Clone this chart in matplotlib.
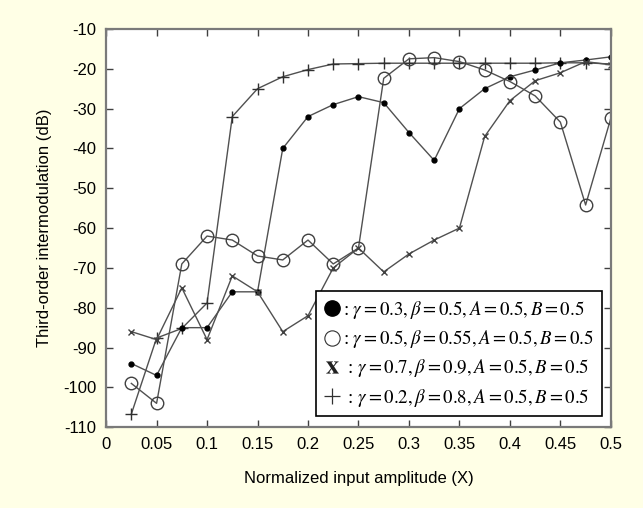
import matplotlib
matplotlib.use("Agg")
import matplotlib.pyplot as plt
from matplotlib.lines import Line2D
from matplotlib.font_manager import FontProperties

plt.rcParams['font.family'] = ['Liberation Sans', 'DejaVu Sans']
plt.rcParams['mathtext.fontset'] = 'stix'
plt.rcParams['axes.unicode_minus'] = False

x = [0.025, 0.05, 0.075, 0.1, 0.125, 0.15, 0.175, 0.2, 0.225, 0.25,
     0.275, 0.3, 0.325, 0.35, 0.375, 0.4, 0.425, 0.45, 0.475, 0.5]

dot_series = [-94, -97, -85, -85, -76, -76, -40, -32, -29, -27,
              -28.5, -36, -43, -30, -25, -22, -20.3, -18.5, -17.8, -17]
circle_series = [-99, -104, -69, -62, -63, -67, -68, -63, -69, -65,
                 -22.4, -17.5, -17.2, -18.2, -20.3, -23.2, -26.8, -33.4, -54.2, -32.4]
x_series = [-86, -88, -75, -88, -72, -76, -86, -82, -70, -65,
            -71, -66.5, -63, -60, -37, -28, -23, -21, -18.2, -19]
plus_series = [-106.7, -87.6, -85.2, -78.8, -32, -25, -22, -20.2, -18.8, -18.7,
               -18.6, -18.6, -18.6, -18.6, -18.6, -18.6, -18.6, -18.5, -18.5, -18.8]

legend_labels = [
    ": $\\gamma = 0.3, \\beta = 0.5, A = 0.5, B = 0.5$",
    ": $\\gamma = 0.5, \\beta = 0.55, A = 0.5, B = 0.5$",
    " : $\\gamma = 0.7, \\beta = 0.9, A = 0.5, B = 0.5$",
    " : $\\gamma = 0.2, \\beta = 0.8, A = 0.5, B = 0.5$",
]

xticks = [0, 0.05, 0.1, 0.15, 0.2, 0.25, 0.3, 0.35, 0.4, 0.45, 0.5]
xticklabels = ['0', '0.05', '0.1', '0.15', '0.2', '0.25', '0.3', '0.35', '0.4', '0.45', '0.5']
yticks = [-110, -100, -90, -80, -70, -60, -50, -40, -30, -20, -10]

bg = '#FFFFE6'
lc = '#505050'

fig = plt.figure(figsize=(6.43, 5.08), dpi=100, facecolor=bg)
ax = fig.add_axes([0.165, 0.159, 0.785, 0.784])
ax.set_facecolor('white')

ax.plot(x, plus_series, color=lc, lw=1, marker='+', ms=9, mec='#303030', mew=1)
ax.plot(x, dot_series, color=lc, lw=1, marker='o', ms=3.5, mfc='black', mec='black')
ax.plot(x, circle_series, color=lc, lw=1, marker='o', ms=9, mfc='none', mec='#404040', mew=1)
ax.plot(x, x_series, color=lc, lw=1, marker='x', ms=4.5, mec='#404040', mew=1)

ax.set_xlim(0, 0.5)
ax.set_ylim(-110, -10)
ax.set_xticks(xticks)
ax.set_xticklabels(xticklabels)
ax.set_yticks(yticks)
ax.tick_params(direction='in', top=True, right=True, length=5, width=1,
               color='#404040', labelsize=12, pad=7)
for s in ax.spines.values():
    s.set_color('#7a7a7a')
    s.set_linewidth(1.6)

ax.set_xlabel('Normalized input amplitude (X)', fontsize=12, labelpad=14)
ax.set_ylabel('Third-order intermodulation (dB)', fontsize=12, labelpad=8)

handles = [
    Line2D([], [], linestyle='none', marker='o', ms=11, mfc='black', mec='black'),
    Line2D([], [], linestyle='none', marker='o', ms=11, mfc='white', mec='#303030', mew=0.8),
    Line2D([], [], linestyle='none', marker='$\\mathbf{x}$', ms=9, mew=0, color='#202020'),
    Line2D([], [], linestyle='none', marker='+', ms=11, mew=0.9, color='#303030'),
]
prop = FontProperties(family=['Liberation Serif', 'DejaVu Sans'], size=13.6)
leg = ax.legend(handles, legend_labels, loc='lower right', bbox_to_anchor=(0.982, 0.028),
                borderaxespad=0, handlelength=0.9, handletextpad=0.15, prop=prop,
                fancybox=False, framealpha=1, edgecolor='black', labelspacing=0.38,
                borderpad=0.4)
leg.get_frame().set_linewidth(1.2)

fig.savefig('out.png', dpi=100, facecolor=bg)
